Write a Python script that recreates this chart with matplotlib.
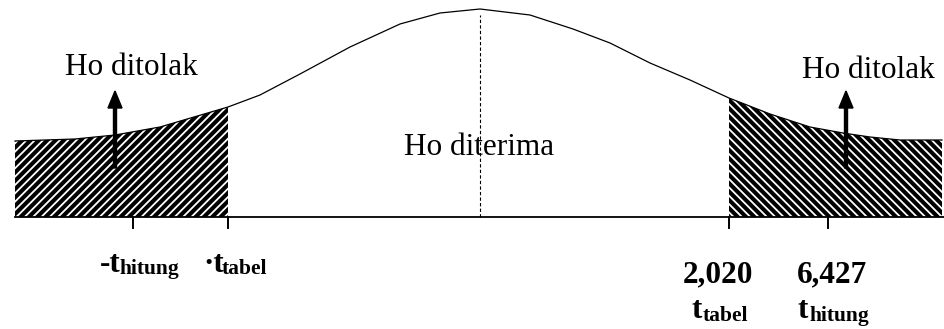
import numpy as np
import matplotlib.pyplot as plt

# curve (x along the axis, height above the baseline)
curve_x = np.array([15, 75, 115, 160, 228, 260, 300, 350, 400, 440, 480, 530,
                    573, 610, 650, 690, 729, 770, 810, 843, 870, 900, 942])
curve_y = np.array([76, 78, 82, 90, 110, 122, 143, 170, 193, 204, 208, 202,
                    188, 174, 154, 137, 119, 103, 90, 84, 80, 77, 77])

t_tabel_left = 228
t_tabel_right = 729
tick_x = [133, 228, 729, 828]
arrow_x = [115, 846]
center_x = 480

plt.rcParams['font.family'] = ['Liberation Serif', 'DejaVu Serif']
plt.rcParams['hatch.linewidth'] = 1.3

fig = plt.figure(figsize=(9.44, 3.29), dpi=100)
ax = fig.add_axes([0, 0, 1, 1])
ax.set_xlim(0, 944)
ax.set_ylim(-112, 217)
ax.axis('off')

# rejection regions, black with white hatching
left = curve_x <= t_tabel_left
right = curve_x >= t_tabel_right
ax.fill_between(curve_x[left], 0, curve_y[left], facecolor='black',
                edgecolor='white', hatch='////', linewidth=0)
ax.fill_between(curve_x[right], 0, curve_y[right], facecolor='black',
                edgecolor='white', hatch='\\\\\\\\', linewidth=0)

# curve, baseline, centre line, ticks
ax.plot(curve_x, curve_y, color='black', lw=0.9)
ax.plot([15, 944], [0, 0], color='black', lw=1.3)
ax.plot([center_x, center_x], [0, 202], color='black', lw=0.8, ls=(0, (3, 2)))
for tx in tick_x:
    ax.plot([tx, tx], [0, -11], color='black', lw=1.4)

for axx in arrow_x:
    ax.arrow(axx, 49, 0, 77, width=3, head_width=14, head_length=17,
             length_includes_head=True, color='black')

fs = 22.5
sub = 15.5
ax.text(131, 142, 'Ho ditolak', fontsize=fs, ha='center', va='baseline')
ax.text(868, 139, 'Ho ditolak', fontsize=fs, ha='center', va='baseline')
ax.text(479, 62, 'Ho diterima', fontsize=fs, ha='center', va='baseline')

# bottom labels
ax.text(100, -55, '-t', fontsize=fs, fontweight='bold', ha='left', va='baseline')
ax.text(120, -57, 'hitung', fontsize=sub, fontweight='bold', ha='left', va='baseline')
ax.text(203, -55, '\u00b7t', fontsize=fs, fontweight='bold', ha='left', va='baseline')
ax.text(222, -57, 'tabel', fontsize=sub, fontweight='bold', ha='left', va='baseline')

ax.text(683, -65, '2,020', fontsize=fs, fontweight='bold', ha='left', va='baseline')
ax.text(797, -65, '6,427', fontsize=fs, fontweight='bold', ha='left', va='baseline')
ax.text(691, -101, 't', fontsize=fs, fontweight='bold', ha='left', va='baseline')
ax.text(703, -104, 'tabel', fontsize=sub, fontweight='bold', ha='left', va='baseline')
ax.text(797, -101, 't', fontsize=fs, fontweight='bold', ha='left', va='baseline')
ax.text(809, -104, 'hitung', fontsize=sub, fontweight='bold', ha='left', va='baseline')

fig.savefig('out.png', dpi=100)
